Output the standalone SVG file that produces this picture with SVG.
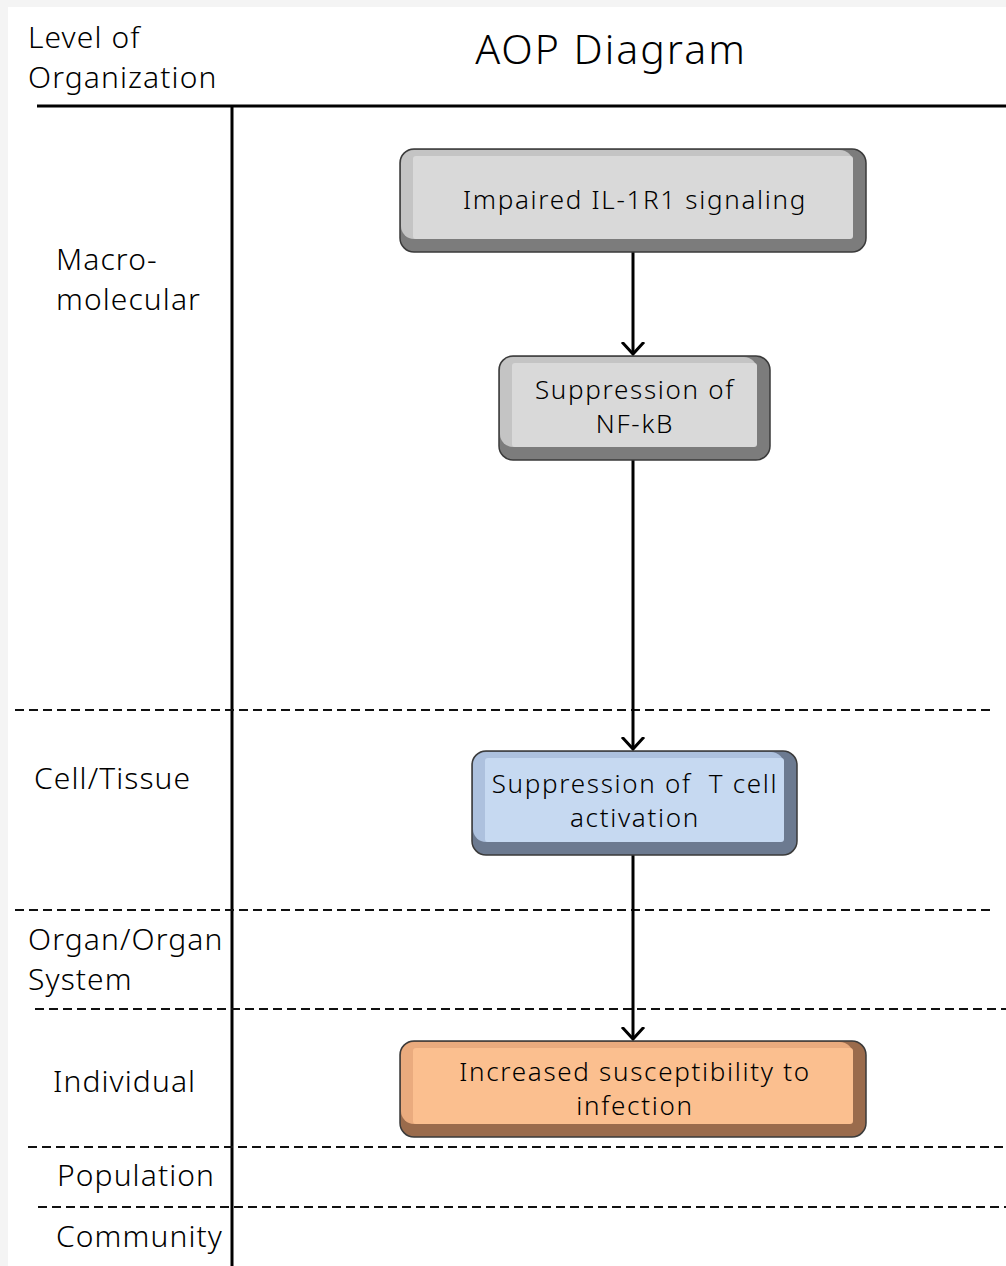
<svg xmlns="http://www.w3.org/2000/svg" width="1006" height="1266" viewBox="0 0 1006 1266">
<defs>
<style>
.lbl{font-family:"Noto Sans","DejaVu Sans",sans-serif;font-size:30px;font-weight:300;fill:#000;letter-spacing:1.1px;}
.title{font-family:"Noto Sans","DejaVu Sans",sans-serif;font-size:41px;font-weight:300;fill:#000;letter-spacing:2px;}
.bt{font-family:"Noto Sans","DejaVu Sans",sans-serif;font-size:26px;font-weight:300;fill:#000;text-anchor:middle;letter-spacing:1.7px;}
.dash{stroke:#111;stroke-width:2.2;stroke-dasharray:9 5;fill:none;}
.solid{stroke:#000;stroke-width:3;fill:none;}
.conn{stroke:#000;stroke-width:3;fill:none;}
.outer{stroke:#3a3a3a;stroke-width:1.5;}
</style>
<marker id="arr" markerUnits="userSpaceOnUse" markerWidth="30" markerHeight="30" refX="12" refY="15" orient="auto" viewBox="0 0 30 30">
<path d="M0,4 L12,15 L0,26" fill="none" stroke="#000" stroke-width="3"/>
</marker>
</defs>
<rect x="0" y="0" width="1006" height="1266" fill="#f4f4f4"/>
<rect x="8" y="7" width="998" height="1259" fill="#ffffff"/>

<g id="frame">
<text class="lbl" x="28" y="48">Level of</text>
<text class="lbl" x="28" y="88">Organization</text>
<text class="title" x="611" y="64" text-anchor="middle">AOP Diagram</text>
<line class="solid" x1="37" y1="106" x2="1006" y2="106"/>
<line class="solid" x1="232" y1="106" x2="232" y2="1266"/>
<line class="dash" x1="15" y1="710" x2="990" y2="710"/>
<line class="dash" x1="15" y1="910" x2="990" y2="910"/>
<line class="dash" x1="35" y1="1009" x2="1006" y2="1009"/>
<line class="dash" x1="28" y1="1147" x2="1006" y2="1147"/>
<line class="dash" x1="38" y1="1207" x2="1006" y2="1207"/>
<text class="lbl" x="56" y="270">Macro-</text>
<text class="lbl" x="56" y="310">molecular</text>
<text class="lbl" x="34" y="789">Cell/Tissue</text>
<text class="lbl" x="28" y="950">Organ/Organ</text>
<text class="lbl" x="28" y="990">System</text>
<text class="lbl" x="53" y="1092">Individual</text>
<text class="lbl" x="57" y="1186">Population</text>
<text class="lbl" x="56" y="1247">Community</text>
</g>

<g id="connectors">
<line class="conn" x1="633" y1="252" x2="633" y2="354" marker-end="url(#arr)"/>
<line class="conn" x1="633" y1="460" x2="633" y2="749" marker-end="url(#arr)"/>
<line class="conn" x1="633" y1="855" x2="633" y2="1039" marker-end="url(#arr)"/>
</g>

<g id="n1">
<rect class="outer" x="400" y="149" width="466" height="103" rx="14" fill="#7c7c7c"/>
<rect x="401" y="150" width="452" height="89" rx="13" fill="#c4c4c4"/>
<rect x="413" y="156" width="440" height="83" rx="3" fill="#d9d9d9"/>
<text class="bt" x="635" y="209">Impaired IL-1R1 signaling</text>
</g>

<g id="n2">
<rect class="outer" x="499" y="356" width="271" height="104" rx="14" fill="#7c7c7c"/>
<rect x="500" y="357" width="257" height="90" rx="13" fill="#c4c4c4"/>
<rect x="512" y="363" width="245" height="84" rx="3" fill="#d9d9d9"/>
<text class="bt" x="635" y="399">Suppression of</text>
<text class="bt" x="635" y="433">NF-kB</text>
</g>

<g id="n3">
<rect class="outer" x="472" y="751" width="325" height="104" rx="14" fill="#6c7a90"/>
<rect x="473" y="752" width="311" height="90" rx="13" fill="#adc1de"/>
<rect x="485" y="758" width="299" height="84" rx="3" fill="#c6d9f1"/>
<text class="bt" x="635" y="793" xml:space="preserve">Suppression of  T cell</text>
<text class="bt" x="635" y="827">activation</text>
</g>

<g id="n4">
<rect class="outer" x="400" y="1041" width="466" height="96" rx="14" fill="#9a6b4c"/>
<rect x="401" y="1042" width="452" height="82" rx="13" fill="#eaab7e"/>
<rect x="413" y="1048" width="440" height="76" rx="3" fill="#fbbf8f"/>
<text class="bt" x="635" y="1081">Increased susceptibility to</text>
<text class="bt" x="635" y="1115">infection</text>
</g>
</svg>
